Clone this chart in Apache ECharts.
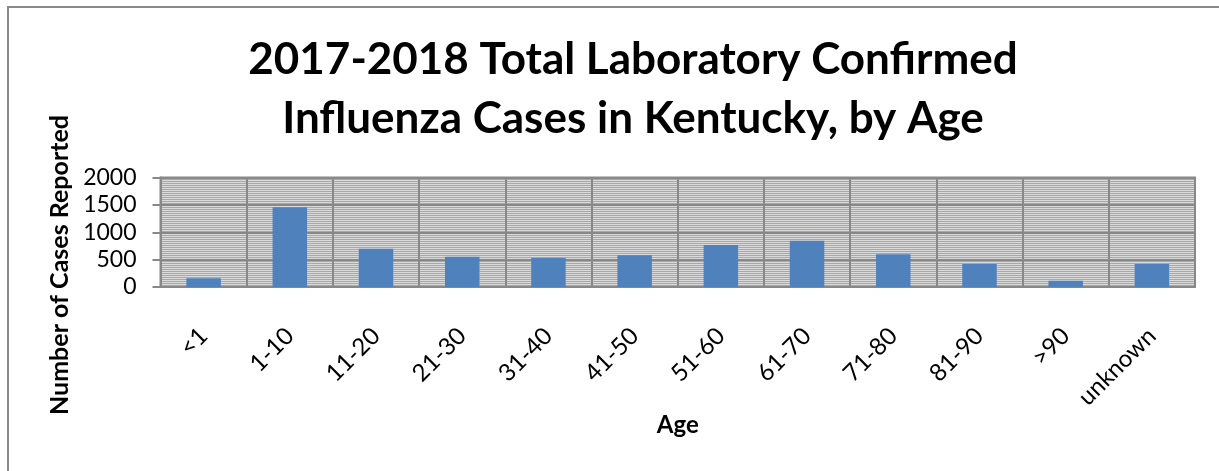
<!DOCTYPE html>
<html>
<head>
<meta charset="utf-8">
<script src="https://cdn.jsdelivr.net/npm/echarts@6/dist/echarts.min.js"></script>
<style>
html,body{margin:0;padding:0;background:#fff;}
#chart{width:1219px;height:471px;}
</style>
</head>
<body>
<div id="chart"></div>
<script>
const titleText = '2017-2018 Total Laboratory Confirmed\nInfluenza Cases in Kentucky, by Age';
const categories = ['<1','1-10','11-20','21-30','31-40','41-50','51-60','61-70','71-80','81-90','>90','unknown'];
const cases = [160, 1455, 700, 553, 530, 579, 767, 845, 597, 420, 115, 420];
const yTicks = [0, 500, 1000, 1500, 2000];
const yAxisTitle = 'Number of Cases Reported';
const xAxisTitle = 'Age';

const FONT = 'Lato, "Open Sans", sans-serif';

// striped background pattern like the Excel fill
const pc = document.createElement('canvas');
pc.width = 4; pc.height = 2;
const pctx = pc.getContext('2d');
pctx.fillStyle = '#dadada'; pctx.fillRect(0,0,4,1);
pctx.fillStyle = '#a8a8a8'; pctx.fillRect(0,1,4,1);

const chart = echarts.init(document.getElementById('chart'), null, {renderer:'canvas'});
chart.setOption({
  backgroundColor: '#ffffff',
  animation: false,
  title: {
    text: titleText,
    left: 628,
    top: 25,
    textAlign: 'center',
    textStyle: {fontFamily: FONT, fontWeight: 'bold', fontSize: 44, lineHeight: 59, color: '#000'}
  },
  graphic: [
    {type:'rect', silent:true, z:-1, shape:{x:8, y:7, width:1400, height:700}, style:{fill:'none', stroke:'#8a8a8a', lineWidth:2}},
    {type:'text', x:60, y:265, rotation:Math.PI/2, style:{text:yAxisTitle, fontFamily:FONT, fontWeight:'bold', fontSize:25, fill:'#000', align:'center', verticalAlign:'middle'}}
  ],
  grid: {
    left: 160.5, right: 24, top: 177.5, bottom: 184,
    show: true,
    backgroundColor: {image: pc, repeat: 'repeat'},
    borderColor: '#888', borderWidth: 2
  },
  xAxis: {
    type: 'category',
    data: categories,
    name: xAxisTitle,
    nameLocation: 'middle',
    nameGap: 125,
    nameTextStyle: {fontFamily: FONT, fontWeight: 'bold', fontSize: 24, color: '#000'},
    axisLine: {show: true, lineStyle: {color: '#888', width: 2}},
    axisTick: {show: false},
    axisLabel: {rotate: 45, interval: 0, margin: 28, padding: [0, 12, 0, 0], verticalAlign: 'top', fontFamily: FONT, fontSize: 24, color: '#000'},
    splitLine: {show: true, lineStyle: {color: '#888', width: 2}}
  },
  yAxis: {
    type: 'value',
    min: yTicks[0], max: yTicks[yTicks.length-1], interval: 500,
    axisLine: {show: true, lineStyle: {color: '#888', width: 2}},
    axisTick: {show: true, length: 8, lineStyle: {color: '#888', width: 2}},
    axisLabel: {margin: 24, fontFamily: FONT, fontSize: 23, color: '#000', formatter: function (v) { return String(v); }},
    splitLine: {show: true, lineStyle: {color: '#888', width: 2}}
  },
  series: [{
    type: 'bar',
    data: cases,
    barCategoryGap: '60%',
    itemStyle: {color: '#4f81bd'}
  }]
});
</script>
</body>
</html>
